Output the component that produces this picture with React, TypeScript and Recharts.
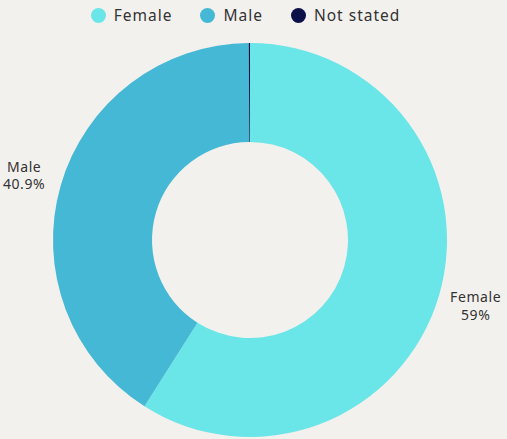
import { PieChart, Pie, Cell, Legend } from "recharts";

const categories = ["Female", "Male", "Not stated"];
const shares = [59, 40.9, 0.1];
const colors = ["#6ae5e8", "#44b8d5", "#0b1048"];

const data = categories.map((name, i) => ({ name, value: shares[i] }));

const RADIAN = Math.PI / 180;

const renderLabel = (props: any) => {
  const { cx, cy, midAngle, outerRadius, name, value } = props;
  if (value < 1) return null;
  const r = outerRadius + 38;
  const x = cx + r * Math.cos(-midAngle * RADIAN);
  const y = cy + r * Math.sin(-midAngle * RADIAN);
  return (
    <text x={x} y={y} textAnchor="middle" fill="#333" fontSize={14} letterSpacing={0.6}>
      <tspan x={x} dy="-0.25em">{name}</tspan>
      <tspan x={x} dy="1.25em">{`${value}%`}</tspan>
    </text>
  );
};

const LegendContent = () => (
  <div
    style={{
      display: "flex",
      justifyContent: "center",
      alignItems: "center",
      gap: 28,
      paddingRight: 16,
    }}
  >
    {categories.map((c, i) => (
      <div key={c} style={{ display: "flex", alignItems: "center" }}>
        <span
          style={{
            width: 15,
            height: 15,
            borderRadius: "50%",
            background: colors[i],
            display: "inline-block",
            marginRight: 8,
          }}
        />
        <span style={{ fontSize: 15.5, color: "#333", letterSpacing: 1 }}>{c}</span>
      </div>
    ))}
  </div>
);

export default function App() {
  return (
    <div
      style={{
        position: "fixed",
        top: 0,
        left: 0,
        width: 507,
        height: 439,
        background: "#f3f1ed",
        fontFamily: "'Noto Sans', sans-serif",
      }}
    >
      <PieChart width={507} height={439} margin={{ top: 0, right: 0, bottom: 0, left: 0 }}>
        <Legend verticalAlign="top" align="center" content={<LegendContent />} wrapperStyle={{ top: 4 }} />
        <Pie
          data={data}
          dataKey="value"
          nameKey="name"
          cx={250}
          cy={218}
          innerRadius={98}
          outerRadius={197}
          startAngle={90}
          endAngle={-270}
          stroke="none"
          label={renderLabel}
          labelLine={false}
          isAnimationActive={false}
        >
          {data.map((d, i) => (
            <Cell key={d.name} fill={colors[i]} />
          ))}
        </Pie>
      </PieChart>
    </div>
  );
}
